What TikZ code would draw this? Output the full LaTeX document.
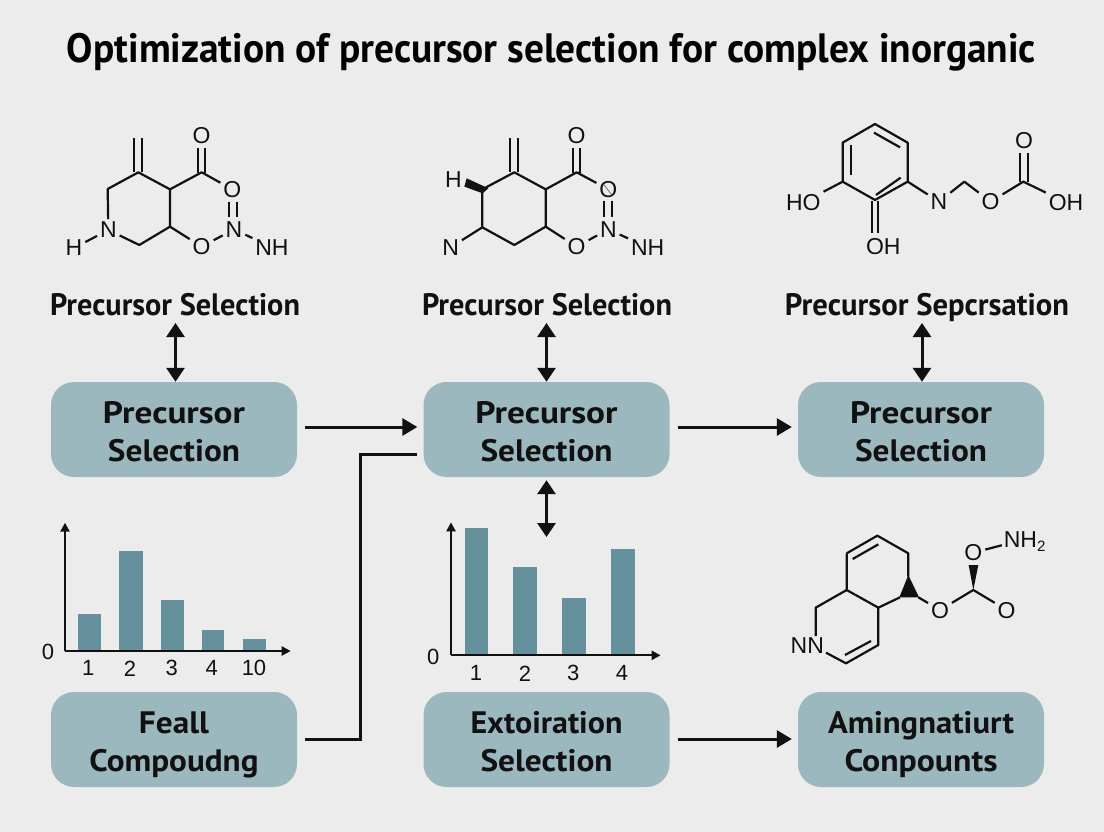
\documentclass[tikz,border=0pt]{standalone}
\usepackage{graphicx}
\usepackage{fontspec}
\setmainfont{PT Sans}
\newfontfamily\atomfont{Liberation Sans}
\usetikzlibrary{arrows.meta,calc}
\definecolor{bgc}{HTML}{ECECEC}
\definecolor{boxc}{HTML}{9AB8BE}
\definecolor{barc}{HTML}{64919C}
\definecolor{inkc}{HTML}{111111}
\newcommand\fitw[2]{\resizebox{#1pt}{\height}{#2}}
\newcommand\topstrut{\rule{0pt}{33pt}}
\newcommand\botstrut{\rule[-8pt]{0pt}{8pt}}
\tikzset{
 stagebox/.style={rounded corners=23pt,fill=boxc,minimum width=246pt,minimum height=95pt,inner sep=0pt,align=center,text=inkc,font=\fontsize{31}{38}\selectfont\bfseries},
 steplabel/.style={anchor=base,inner sep=0pt,text=inkc,font=\fontsize{31}{36}\selectfont\bfseries},
 flow/.style={draw=inkc,line width=3pt,-{Triangle[length=15pt,width=17pt]}},
 flowplain/.style={draw=inkc,line width=3pt},
 dbl/.style={draw=inkc,line width=3pt,{Triangle[length=14pt,width=18pt]}-{Triangle[length=14pt,width=18pt]}},
 atom/.style={inner sep=3pt,outer sep=0pt,text=inkc,text depth=0pt,font=\atomfont\fontsize{23}{23}\selectfont},
 bond/.style={draw=inkc,line width=2.2pt,line join=round},
 axisl/.style={draw=inkc,line width=2.2pt,-{Triangle[length=9pt,width=9pt]}},
 barr/.style={fill=barc},
 ticklab/.style={inner sep=0pt,text=inkc,font=\atomfont\fontsize{22}{22}\selectfont},
}
\begin{document}
\begin{tikzpicture}[x=1pt,y=-1pt]
\useasboundingbox (0,0) rectangle (1104,832);
\fill[bgc] (0,0) rectangle (1104,832);
% title
\node[anchor=base,inner sep=0pt,text=black,font=\fontsize{41}{46}\selectfont\bfseries] (title) at (551.5,62.5) {\fitw{969}{Optimization of precursor selection for complex inorganic}};
% labels
\node[steplabel] (lab1) at (175,315) {\fitw{250}{Precursor Selection}};
\node[steplabel] (lab2) at (547,315) {\fitw{250}{Precursor Selection}};
\node[steplabel] (lab3) at (927,315) {\fitw{284}{Precursor Sepcrsation}};
% boxes
\node[stagebox] (b11) at (174,429.5) {\topstrut\fitw{142}{Precursor}\\\fitw{132}{Selection}\botstrut};
\node[stagebox] (b12) at (546.5,429.5) {\topstrut\fitw{142}{Precursor}\\\fitw{132}{Selection}\botstrut};
\node[stagebox] (b13) at (921,429.5) {\topstrut\fitw{142}{Precursor}\\\fitw{132}{Selection}\botstrut};
\node[stagebox] (b21) at (174,739.5) {\topstrut\fitw{70}{Feall}\\\fitw{169}{Compoudng}\botstrut};
\node[stagebox] (b22) at (546.5,739.5) {\topstrut\fitw{152}{Extoiration}\\\fitw{132}{Selection}\botstrut};
\node[stagebox] (b23) at (921,739.5) {\topstrut\fitw{186}{Amingnatiurt}\\\fitw{153}{Conpounts}\botstrut};
% connectors
\coordinate (t1) at (175.5,323);
\coordinate (t2) at (546.5,323);
\coordinate (t3) at (922,323);
\coordinate (t4) at (546.5,537);
\draw[dbl] (t1) -- (t1 |- b11.north);
\draw[dbl] (t2) -- (t2 |- b12.north);
\draw[dbl] (t3) -- (t3 |- b13.north);
\draw[dbl,shorten <=3pt] (b12.south) -- (t4);
\draw[flow,shorten <=8pt,shorten >=6pt] ([yshift=2.5pt]b11.east) -- ([yshift=2.5pt]b12.west);
\draw[flow,shorten <=8pt,shorten >=6pt] ([yshift=2.5pt]b12.east) -- ([yshift=2.5pt]b13.west);
\draw[flow,shorten <=8pt,shorten >=6pt] ([yshift=0.5pt]b22.east) -- ([yshift=0.5pt]b23.west);
\coordinate (elb) at (360,454);
\draw[flowplain,line join=miter,shorten <=8pt,shorten >=6pt] ([yshift=0.5pt]b21.east) -| (elb) -- (elb -| b12.west);
% chart 1
\begin{scope}[shift={(30,510)},x=0.33333pt,y=-0.33333pt]
\fill[barr] (145,312) rectangle (212,421);
\fill[barr] (268,122) rectangle (338,421);
\fill[barr] (392,270) rectangle (462,421);
\fill[barr] (516,361) rectangle (583,421);
\fill[barr] (638,388) rectangle (707,421);
\coordinate (o1) at (105,423);
\draw[axisl] (o1) -- (105,38);
\draw[axisl] (o1) -- (782,423);
\node[ticklab] (z1) at (54,426) {0};
\node[ticklab] (c1a) at (175,475) {1};
\node[ticklab] (c1b) at (300,475) {2};
\node[ticklab] (c1c) at (425,475) {3};
\node[ticklab] (c1d) at (545,475) {4};
\node[ticklab] (c1e) at (672,475) {10};
\end{scope}
% chart 2
\begin{scope}[shift={(420,470)},x=0.33333pt,y=-0.33333pt]
\fill[barr] (135,175) rectangle (205,554);
\fill[barr] (280,290) rectangle (351,554);
\fill[barr] (425,385) rectangle (497,554);
\fill[barr] (574,238) rectangle (645,554);
\coordinate (o2) at (93,556);
\draw[axisl] (o2) -- (93,157);
\draw[axisl] (o2) -- (722,556);
\node[ticklab] (z2) at (40,560) {0};
\node[ticklab] (c2a) at (168,610) {1};
\node[ticklab] (c2b) at (315,610) {2};
\node[ticklab] (c2c) at (460,610) {3};
\node[ticklab] (c2d) at (606,610) {4};
\end{scope}
% molecule 1
\begin{scope}[shift={(40,110)},x=0.33333pt,y=-0.33333pt]
\node[atom] (aH) at (102,414) {H};
\node[atom] (aN) at (205,360) {N};
\node[atom] (aO1) at (485,77) {O};
\node[atom] (aO2) at (577,238) {O};
\node[atom] (aN2) at (582,358) {N};
\node[atom] (aO3) at (485,410) {O};
\node[atom] (aNH) at (696,412) {NH};
\coordinate (ma) at (295,187);
\coordinate (mb) at (390,238);
\coordinate (mc) at (390,350);
\coordinate (md) at (298,405);
\coordinate (me) at (203,237);
\coordinate (mf) at (485,187);
\draw[bond] (aN) -- (me) -- (ma) -- (mb) -- (mc) -- (md) -- (aN);
\draw[bond] (aH) -- (aN);
\draw[bond] (mb) -- (mf) -- (aO2);
\draw[bond] (mc) -- (aO3) -- (aN2) -- (aNH);
\draw[bond] (283,85) -- (283,187);
\draw[bond] (307,85) -- (307,187);
\draw[bond] (473,115) -- (473,190);
\draw[bond] (495,115) -- (495,190);
\draw[bond] (567,275) -- (567,322);
\draw[bond] (590,275) -- (590,322);
\end{scope}
% molecule 2
\begin{scope}[shift={(420,110)},x=0.33333pt,y=-0.33333pt]
\node[atom] (bH) at (100,208) {H};
\node[atom] (bN) at (92,412) {N};
\node[atom] (bO1) at (470,75) {O};
\node[atom] (bO2) at (565,238) {O};
\node[atom] (bN2) at (565,358) {N};
\node[atom] (bO3) at (470,410) {O};
\node[atom] (bNH) at (683,412) {NH};
\coordinate (na) at (283,187);
\coordinate (nb) at (377,238);
\coordinate (nc) at (377,350);
\coordinate (nd) at (283,405);
\coordinate (ne) at (187,352);
\coordinate (ng) at (187,238);
\coordinate (nf) at (470,187);
\draw[bond] (ng) -- (na) -- (nb) -- (nc) -- (nd) -- (ne) -- cycle;
\draw[bond] (ne) -- (bN);
\draw[bond] (nb) -- (nf) -- (bO2);
\draw[bond] (nc) -- (bO3) -- (bN2) -- (bNH);
\draw[bond] (270,85) -- (270,187);
\draw[bond] (293,85) -- (293,187);
\draw[bond] (458,115) -- (458,190);
\draw[bond] (480,115) -- (480,190);
\draw[bond] (553,272) -- (553,322);
\draw[bond] (577,272) -- (577,322);
\fill[inkc] (140,205) -- (205,235) -- (188,250) -- (133,230) -- cycle;
\draw[inkc!70,line width=0.6pt] (550,222) -- (578,258);
\end{scope}
% molecule 3
\begin{scope}[shift={(770,110)},x=0.33333pt,y=-0.33333pt]
\node[atom] (cHO) at (100,277) {HO};
\node[atom] (cOH) at (340,410) {OH};
\node[atom] (cN) at (507,275) {N};
\node[atom] (cO) at (662,275) {O};
\node[atom] (cO2) at (762,92) {O};
\node[atom] (cOH2) at (888,277) {OH};
\coordinate (p1) at (315,42);
\coordinate (p2) at (413,98);
\coordinate (p3) at (413,215);
\coordinate (p4) at (315,270);
\coordinate (p5) at (218,215);
\coordinate (p6) at (218,98);
\coordinate (pm) at (583,215);
\coordinate (pc) at (760,215);
\draw[bond] (p1) -- (p2) -- (p3) -- (p4) -- (p5) -- (p6) -- cycle;
\draw[bond] (312,68) -- (390,112);
\draw[bond] (243,105) -- (243,195);
\draw[bond] (318,255) -- (392,203);
\draw[bond] (cHO) -- (p5);
\draw[bond] (p3) -- (cN) -- (pm) -- (cO) -- (pc) -- (cOH2);
\draw[bond] (306,272) -- (306,370);
\draw[bond] (325,272) -- (325,370);
\draw[bond] (750,130) -- (750,215);
\draw[bond] (773,130) -- (773,215);
\end{scope}
% molecule 4
\begin{scope}[shift={(790,510)},x=0.33333pt,y=-0.33333pt]
\node[atom] (dNN) at (52,408) {NN};
\node[atom] (dO) at (450,300) {O};
\node[atom] (dO2) at (650,300) {O};
\node[atom] (dO3) at (550,128) {O};
\node[atom,inner sep=2pt] (dNH) at (704,88) {NH\raisebox{-4pt}{\fontsize{15}{15}\selectfont 2}};
\coordinate (qa) at (262,77);
\coordinate (qb) at (355,130);
\coordinate (qd) at (265,293);
\coordinate (qe) at (170,240);
\coordinate (qf) at (170,130);
\coordinate (qg) at (77,293);
\coordinate (qh) at (265,405);
\coordinate (qi) at (168,460);
\coordinate (qw) at (385,262);
\coordinate (qc) at (550,240);
\draw[bond] (qf) -- (qa) -- (qb) -- (355,200);
\draw[bond] (qf) -- (qe) -- (qd) -- (330,262);
\draw[bond] (qe) -- (qg) -- (77,378);
\draw[bond] (qd) -- (qh) -- (qi) -- (108,428);
\draw[bond] (188,147) -- (265,103);
\draw[bond] (165,435) -- (243,393);
\draw[bond] (qw) -- (dO) -- (qc) -- (dO2);
\draw[bond] (dO3) -- (dNH);
\fill[inkc] (355,195) -- (387,262) -- (328,262) -- cycle;
\fill[inkc] (550,240) -- (536,165) -- (565,165) -- cycle;
\end{scope}
\end{tikzpicture}
\end{document}
